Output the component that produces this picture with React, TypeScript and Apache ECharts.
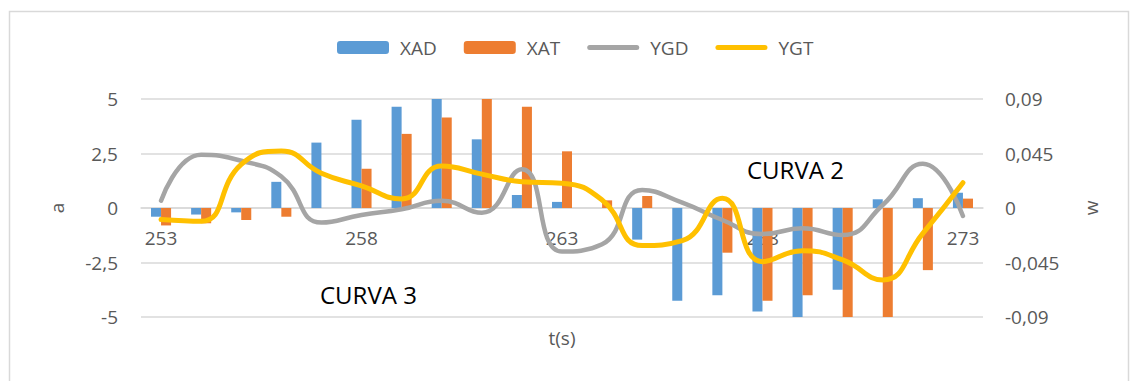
import React, { useEffect, useRef } from "react";
import * as echarts from "echarts";

const categories = ["253","254","255","256","257","258","259","260","261","262","263","264","265","266","267","268","269","270","271","272","273"];
const XAD = [-0.4,-0.3,-0.2,1.2,3.0,4.05,4.65,5.0,3.15,0.6,0.28,0,-1.45,-4.25,-4.0,-4.75,-5.1,-3.75,0.4,0.45,0.7];
const XAT = [-0.8,-0.7,-0.55,-0.4,0,1.8,3.4,4.15,5.0,4.65,2.6,0.35,0.55,0,-2.05,-4.25,-4.0,-5.05,-5.1,-2.85,0.43];
const YGD = [0.006,0.044,0.039,0.026,-0.012,-0.0058,-0.001,0.006,-0.0039,0.032,-0.036,-0.03,0.0149,0.0044,-0.0099,-0.0215,-0.0168,-0.0223,0.0025,0.0365,-0.0066];
const YGT = [-0.0095,-0.011,0.036,0.047,0.0287,0.0182,0.0075,0.0347,0.028,0.0217,0.0204,0.0066,-0.031,-0.027,0.008,-0.0443,-0.0352,-0.0429,-0.0594,-0.0209,0.0209];
const seriesNames = ["XAD","XAT","YGD","YGT"];
const annotations = ["CURVA 3","CURVA 2"];

const FONT = "Open Sans";
const GRAY = "#595959";
const GRID = "#d9d9d9";
const LINE_ICON = "path://M2.5,0 L49.5,0 A2.5,2.5 0 0 1 49.5,5 L2.5,5 A2.5,2.5 0 0 1 2.5,0 Z";

const fmt = (v: number) => String(Math.round(v * 10000) / 10000).replace(".", ",");

export default function App() {
  const ref = useRef<HTMLDivElement>(null);
  useEffect(() => {
    const chart = echarts.init(ref.current!, null, { renderer: "svg" });
    chart.setOption({
      animation: false,
      backgroundColor: "#fff",
      textStyle: { fontFamily: FONT },
      legend: {
        top: 33,
        left: 332,
        itemWidth: 52,
        itemHeight: 13,
        itemGap: 27,
        data: [
          { name: seriesNames[0] },
          { name: seriesNames[1] },
          { name: seriesNames[2], icon: LINE_ICON },
          { name: seriesNames[3], icon: LINE_ICON },
        ],
        textStyle: { fontFamily: FONT, fontSize: 19, color: GRAY, padding: [0, 0, 0, 6] },
      },
      grid: { left: 141, right: 151, top: 99, bottom: 64, containLabel: false, outerBoundsMode: "none" },
      xAxis: {
        type: "category",
        data: categories,
        boundaryGap: true,
        position: "bottom",
        offset: -109,
        axisLine: { show: true, onZero: false, lineStyle: { color: GRID, width: 1.5 } },
        axisTick: { show: false },
        axisLabel: { interval: 4, margin: 20, fontSize: 19, color: GRAY, fontFamily: FONT },
        name: "t(s)",
        nameLocation: "middle",
        nameGap: 120,
        nameTextStyle: { fontSize: 19, color: GRAY, fontFamily: FONT },
      },
      yAxis: [
        {
          type: "value",
          min: -5,
          max: 5,
          interval: 2.5,
          position: "left",
          axisLine: { show: false },
          axisTick: { show: false },
          splitLine: { lineStyle: { color: GRID, width: 1.5 } },
          axisLabel: { margin: 23, fontSize: 19, color: GRAY, fontFamily: FONT, formatter: fmt },
          name: "a",
          nameLocation: "middle",
          nameGap: 75,
          nameRotate: 90,
          nameTextStyle: { fontSize: 19, color: GRAY, fontFamily: FONT },
        },
        {
          type: "value",
          min: -0.09,
          max: 0.09,
          interval: 0.045,
          position: "right",
          axisLine: { show: false },
          axisTick: { show: false },
          splitLine: { show: false },
          axisLabel: { margin: 22, fontSize: 19, color: GRAY, fontFamily: FONT, formatter: fmt },
          name: "w",
          nameLocation: "middle",
          nameGap: 98,
          nameRotate: 90,
          nameTextStyle: { fontSize: 19, color: GRAY, fontFamily: FONT },
        },
      ],
      series: [
        { name: seriesNames[0], type: "bar", data: XAD, yAxisIndex: 0, barGap: "0%", barCategoryGap: "50%", itemStyle: { color: "#5b9bd5" } },
        { name: seriesNames[1], type: "bar", data: XAT, yAxisIndex: 0, barGap: "0%", barCategoryGap: "50%", itemStyle: { color: "#ed7d31" } },
        { name: seriesNames[2], type: "line", data: YGD, yAxisIndex: 1, smooth: 0.5, symbol: "none", lineStyle: { color: "#a5a5a5", width: 4.5, cap: "round" }, itemStyle: { color: "#a5a5a5" } },
        { name: seriesNames[3], type: "line", data: YGT, yAxisIndex: 1, smooth: 0.5, symbol: "none", lineStyle: { color: "#ffc000", width: 5, cap: "round" }, itemStyle: { color: "#ffc000" } },
      ],
      graphic: [
        { type: "rect", left: 7, top: 9, shape: { width: 1119, height: 400 }, style: { fill: "none", stroke: GRID, lineWidth: 1.5 }, silent: true },
        { type: "text", left: 320, top: 282, style: { text: annotations[0], fontSize: 24, fontFamily: FONT, fill: "#000" } },
        { type: "text", left: 747, top: 157, style: { text: annotations[1], fontSize: 24, fontFamily: FONT, fill: "#000" } },
      ],
    });
    return () => chart.dispose();
  }, []);
  return <div ref={ref} style={{ position: "fixed", left: 0, top: 0, width: 1134, height: 381 }} />;
}
